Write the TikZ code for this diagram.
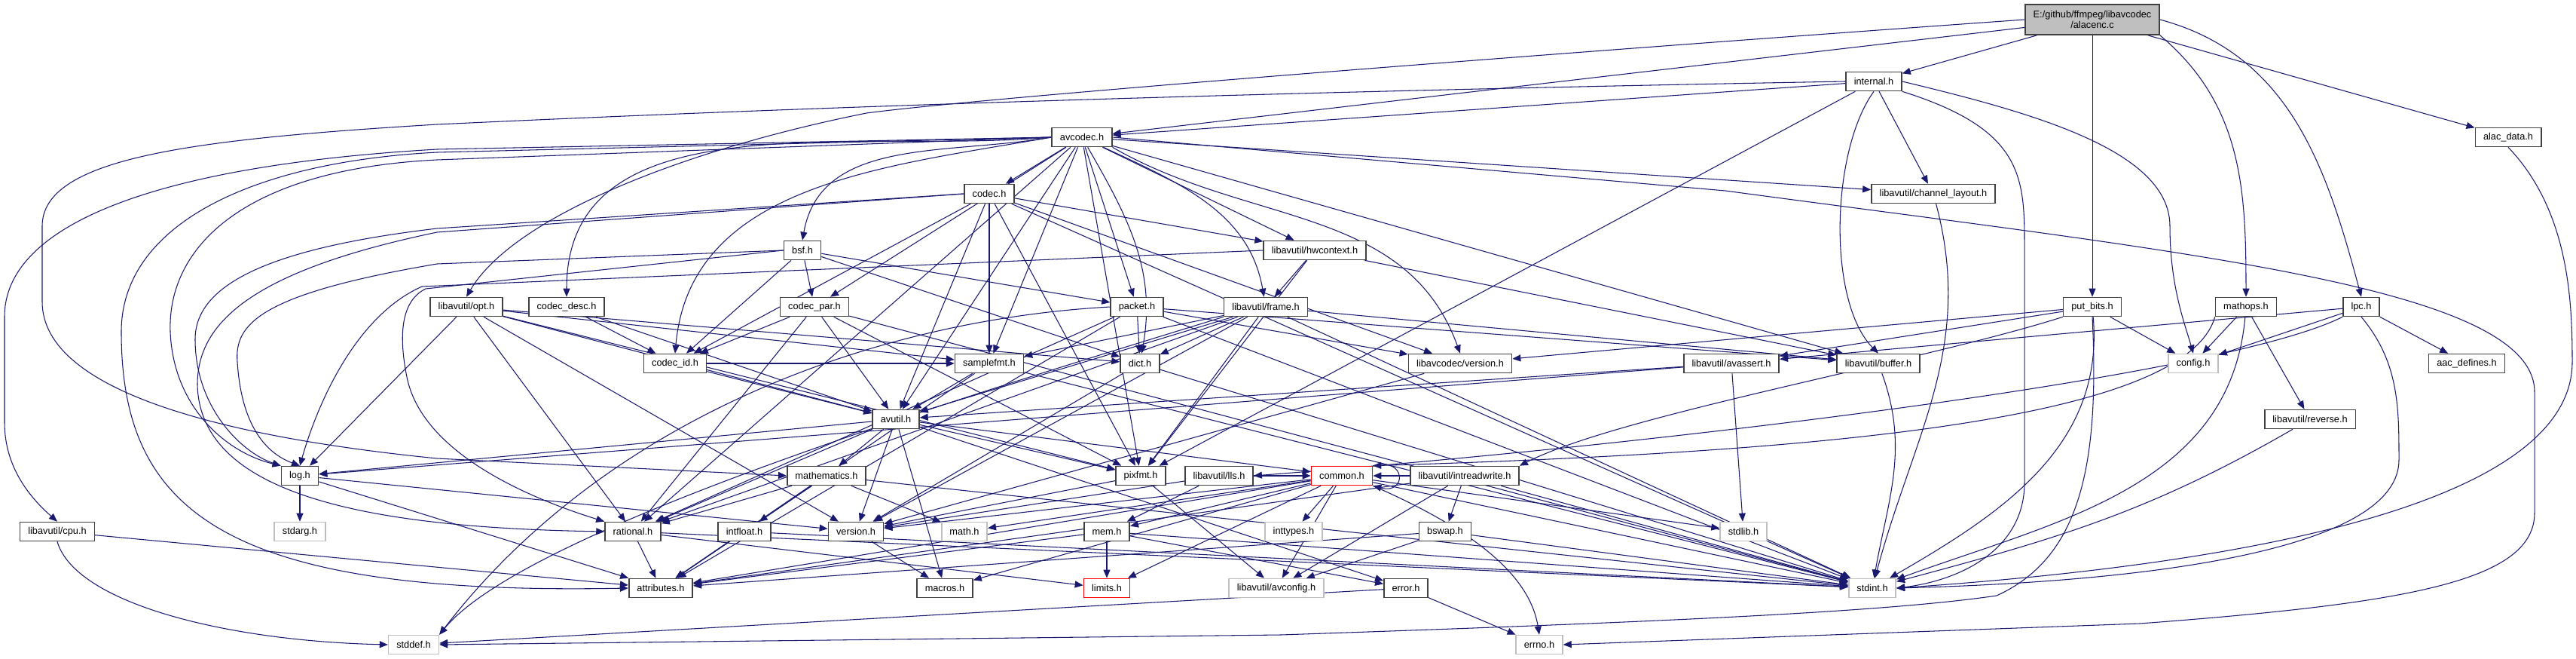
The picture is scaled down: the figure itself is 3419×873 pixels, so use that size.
\documentclass[tikz,border=0pt]{standalone}
\usepackage{fontspec}
\setsansfont{Liberation Sans}
\usetikzlibrary{arrows.meta,backgrounds}
\definecolor{edgeblue}{HTML}{191970}
\definecolor{boxgray}{HTML}{404040}
\definecolor{sysgray}{HTML}{BFBFBF}

\begin{document}
\begin{tikzpicture}[
  x=0.3mm, y=0.3mm,
  font=\sffamily\fontsize{10.9}{12.5}\selectfont,
  hdr/.style={
    draw=boxgray, line width=1.4pt, fill=white,
    minimum height=7.5mm, inner xsep=3.2mm, inner ysep=0pt,
  },
  sys/.style={hdr, draw=sysgray},
  trunc/.style={hdr, draw=red},
  root/.style={hdr, fill=sysgray, minimum height=12mm, align=center},
  inc/.style={-{Triangle[length=3.3mm,width=2.7mm]}, draw=edgeblue, line width=0.9pt},
]
\useasboundingbox (0,0) rectangle (3419,-873);

\node[root] (alacenc) at (2777,-26) {E:/github/ffmpeg/libavcodec\\/alacenc.c};
\node[hdr] (internal) at (2487,-108) {internal.h};
\node[hdr] (avcodec) at (1436,-182) {avcodec.h};
\node[hdr] (alacdata) at (3329,-182) {alac\_data.h};
\node[hdr] (codec) at (1313,-257) {codec.h};
\node[hdr] (chlayout) at (2566,-257) {libavutil/channel\_layout.h};
\node[hdr] (bsf) at (1065,-332) {bsf.h};
\node[hdr] (hwctx) at (1745,-332) {libavutil/hwcontext.h};
\node[hdr] (opt) at (619,-407) {libavutil/opt.h};
\node[hdr] (codecdesc) at (752,-407) {codec\_desc.h};
\node[hdr] (codecpar) at (1081,-407) {codec\_par.h};
\node[hdr] (packet) at (1509,-407) {packet.h};
\node[hdr] (frame) at (1680,-407) {libavutil/frame.h};
\node[hdr] (putbits) at (2777,-407) {put\_bits.h};
\node[hdr] (mathops) at (2981,-407) {mathops.h};
\node[hdr] (lpc) at (3134,-407) {lpc.h};
\node[hdr] (codecid) at (896,-482) {codec\_id.h};
\node[hdr] (samplefmt) at (1313,-482) {samplefmt.h};
\node[hdr] (dict) at (1513,-482) {dict.h};
\node[hdr] (lavcver) at (1938,-482) {libavcodec/version.h};
\node[hdr] (avassert) at (2298,-482) {libavutil/avassert.h};
\node[hdr] (buffer) at (2493,-482) {libavutil/buffer.h};
\node[sys] (config) at (2911,-482) {config.h};
\node[hdr] (aacdef) at (3274,-482) {aac\_defines.h};
\node[hdr] (avutil) at (1189,-556) {avutil.h};
\node[hdr] (reverse) at (3066,-556) {libavutil/reverse.h};
\node[hdr] (log) at (398,-631) {log.h};
\node[hdr] (mathem) at (1097,-631) {mathematics.h};
\node[hdr] (pixfmt) at (1514,-631) {pixfmt.h};
\node[hdr] (lls) at (1618,-631) {libavutil/lls.h};
\node[trunc] (common) at (1781,-631) {common.h};
\node[hdr] (intrw) at (1944,-631) {libavutil/intreadwrite.h};
\node[hdr] (cpu) at (76,-705) {libavutil/cpu.h};
\node[sys] (stdarg) at (398,-705) {stdarg.h};
\node[hdr] (rational) at (840,-705) {rational.h};
\node[hdr] (intfloat) at (988,-705) {intfloat.h};
\node[hdr] (lavuver) at (1136,-705) {version.h};
\node[sys] (math) at (1280,-705) {math.h};
\node[hdr] (mem) at (1469,-705) {mem.h};
\node[sys] (inttypes) at (1717,-705) {inttypes.h};
\node[hdr] (bswap) at (1918,-705) {bswap.h};
\node[sys] (stdlib) at (2314,-705) {stdlib.h};
\node[hdr] (attrib) at (877,-780) {attributes.h};
\node[hdr] (macros) at (1254,-780) {macros.h};
\node[trunc] (limits) at (1469,-780) {limits.h};
\node[sys] (avconfig) at (1694,-780) {libavutil/avconfig.h};
\node[hdr] (error) at (1866,-780) {error.h};
\node[sys] (stdint) at (2485,-780) {stdint.h};
\node[sys] (stddef) at (549,-855) {stddef.h};
\node[sys] (errno) at (2043,-855) {errno.h};

\begin{scope}[on background layer]
\draw[inc] (alacenc) -- (internal);
\draw[inc] (alacenc) -- (avcodec);
\draw[inc] (alacenc.west) .. controls (2000,-75) and (1300,-130) .. (1150,-150) .. controls (900,-200) and (680,-290) .. (opt.north);
\draw[inc] (alacenc) -- (putbits);
\draw[inc] (alacenc.south east) to[out=-40,in=90] (mathops.north);
\draw[inc] (alacenc.east) to[out=-15,in=105] (lpc.north);
\draw[inc] (alacenc) -- (alacdata);

\draw[inc] (internal) -- (avcodec);
\draw[inc] (internal.west) .. controls (1500,-125) and (900,-150) .. (580,-165) .. controls (250,-185) and (56,-210) .. (56,-300) -- (56,-400) .. controls (56,-520) and (300,-580) .. (580,-608) -- (mathem.west);
\draw[inc] (internal) -- (chlayout);
\draw[inc] (internal) -- (pixfmt);
\draw[inc] (internal.south) .. controls (2430,-200) and (2425,-400) .. (buffer.north);
\draw[inc] (internal.south east) .. controls (2680,-170) and (2687,-230) .. (2687,-320) -- (2687,-640) .. controls (2687,-730) and (2600,-770) .. (stdint.east);
\draw[inc] (internal.east) .. controls (2700,-150) and (2880,-200) .. (2880,-300) .. controls (2880,-380) and (2900,-430) .. (config.north);

\draw[inc] (avcodec.east) -- (2290,-253) .. controls (2900,-335) and (3364,-380) .. (3364,-520) -- (3364,-680) .. controls (3364,-770) and (3200,-800) .. (2840,-827) -- (errno.east);
\draw[inc] (avcodec) -- (samplefmt);
\draw[inc] (avcodec.west) -- (580,-202) .. controls (330,-215) and (161,-300) .. (161,-440) .. controls (161,-680) and (300,-790) .. (attrib.west);
\draw[inc] (avcodec) -- (avutil);
\draw[inc] (avcodec) -- (buffer);
\draw[inc] (avcodec.west) -- (580,-198) .. controls (200,-220) and (6,-300) .. (6,-420) -- (6,-560) .. controls (6,-620) and (40,-660) .. (cpu.north);
\draw[inc] (avcodec) -- (chlayout);
\draw[inc] (avcodec) to[out=-60,in=80] (dict);
\draw[inc] (avcodec) to[out=-25,in=100] (frame);
\draw[inc] (avcodec) -- (hwctx);
\draw[inc] (avcodec.west) -- (580,-212) .. controls (320,-225) and (222,-330) .. (226,-440) .. controls (230,-540) and (300,-600) .. (log.north west);
\draw[inc] (avcodec) -- (pixfmt);
\draw[inc] (avcodec) -- (rational);
\draw[inc] (avcodec.west) to[out=190,in=80] (bsf.north);
\draw[inc] (avcodec) -- (codec);
\draw[inc] (avcodec.west) to[out=185,in=90] (codecdesc.north);
\draw[inc] (avcodec) -- (codecpar);
\draw[inc] (avcodec.west) to[out=190,in=85] (codecid.north);
\draw[inc] (avcodec) -- (packet);
\draw[inc] (avcodec.south east) to[out=-30,in=110] (lavcver.north);

\draw[inc] (codec) -- (avutil);
\draw[inc] (codec) -- (hwctx);
\draw[inc] (codec.west) -- (580,-303) .. controls (350,-330) and (259,-380) .. (259,-450) .. controls (259,-540) and (320,-600) .. (log.north west);
\draw[inc] (codec) -- (pixfmt);
\draw[inc] (codec.west) -- (580,-308) .. controls (330,-360) and (262,-430) .. (262,-510) .. controls (265,-660) and (500,-700) .. (rational.west);
\draw[inc] (codec) -- (samplefmt);
\draw[inc] (codec) -- (codecid);
\draw[inc] (codec) -- (lavcver);
\draw[inc] (codec) -- (stdint);

\draw[inc] (chlayout) to[out=-75,in=75] (stdint);
\draw[inc] (alacdata.south) .. controls (3410,-280) and (3414,-400) .. (3414,-480) .. controls (3414,-640) and (3100,-740) .. (stdint.east);

\draw[inc] (bsf) -- (dict);
\draw[inc] (bsf.west) -- (580,-350) .. controls (344,-390) and (311,-430) .. (315,-480) .. controls (320,-560) and (350,-600) .. (log.north);
\draw[inc] (bsf.west) -- (565,-383) .. controls (530,-400) and (530,-450) .. (540,-500) .. controls (560,-600) and (700,-660) .. (rational.north west);
\draw[inc] (bsf) -- (codecid);
\draw[inc] (bsf) -- (codecpar);
\draw[inc] (bsf) -- (packet);

\draw[inc] (hwctx) -- (buffer);
\draw[inc] (hwctx) -- (frame);
\draw[inc] (hwctx.west) -- (560,-380) .. controls (470,-420) and (420,-540) .. (log.north);
\draw[inc] (hwctx) -- (pixfmt);

\draw[inc] (opt) -- (rational);
\draw[inc] (opt) -- (avutil);
\draw[inc] (opt) -- (dict);
\draw[inc] (opt) -- (log);
\draw[inc] (opt) -- (pixfmt);
\draw[inc] (opt) -- (samplefmt);
\draw[inc] (opt) -- (lavuver);

\draw[inc] (codecdesc) -- (avutil);
\draw[inc] (codecdesc) -- (codecid);
\draw[inc] (codecpar) -- (stdint);
\draw[inc] (codecpar) -- (avutil);
\draw[inc] (codecpar) -- (rational);
\draw[inc] (codecpar) -- (pixfmt);
\draw[inc] (codecpar) -- (codecid);

\draw[inc] (packet.west) .. controls (1150,-425) and (800,-560) .. (stddef.north east);
\draw[inc] (packet) -- (stdint);
\draw[inc] (packet) -- (attrib);
\draw[inc] (packet) -- (buffer);
\draw[inc] (packet) -- (dict);
\draw[inc] (packet) -- (rational);
\draw[inc] (packet) -- (lavcver);

\draw[inc] (frame.south west) .. controls (1300,-520) and (700,-700) .. (stddef.north east);
\draw[inc] (frame) -- (stdint);
\draw[inc] (frame) -- (avutil);
\draw[inc] (frame) -- (buffer);
\draw[inc] (frame) -- (dict);
\draw[inc] (frame) -- (rational);
\draw[inc] (frame) -- (samplefmt);
\draw[inc] (frame) -- (pixfmt);
\draw[inc] (frame) -- (lavuver);

\draw[inc] (putbits.south) .. controls (2787,-620) and (2760,-740) .. (2650,-790) .. controls (2500,-812) and (2200,-825) .. (1700,-842) -- (stddef.east);
\draw[inc] (putbits) to[out=-85,in=30] (stdint);
\draw[inc] (putbits) -- (config);
\draw[inc] (putbits.south west) .. controls (2550,-480) and (2150,-550) .. (intrw.north east);
\draw[inc] (putbits) -- (avassert);
\draw[inc] (putbits) -- (lavcver);

\draw[inc] (mathops) to[out=-95,in=20] (stdint);
\draw[inc] (mathops) -- (config);
\draw[inc] (mathops.south west) .. controls (2900,-560) and (2400,-600) .. (common.north east);
\draw[inc] (mathops) -- (reverse);

\draw[inc] (lpc.south) .. controls (3184,-480) and (3184,-540) .. (3184,-610) .. controls (3184,-720) and (2900,-770) .. (stdint.east);
\draw[inc] (lpc) -- (config);
\draw[inc] (lpc) -- (avassert);
\draw[inc] (lpc.south west) .. controls (2950,-500) and (2200,-590) .. (lls.east);
\draw[inc] (lpc) -- (aacdef);

\draw[inc] (codecid) -- (avutil);
\draw[inc] (codecid) -- (samplefmt);
\draw[inc] (samplefmt) -- (stdint);
\draw[inc] (samplefmt) -- (avutil);
\draw[inc] (samplefmt) -- (attrib);
\draw[inc] (dict) -- (stdint);
\draw[inc] (dict) -- (lavuver);
\draw[inc] (lavcver) -- (lavuver);
\draw[inc] (avassert) -- (stdlib);
\draw[inc] (avassert) -- (avutil);
\draw[inc] (avassert) -- (log);
\draw[inc] (buffer) to[out=-70,in=80] (stdint);

\draw[inc] (avutil) -- (common);
\draw[inc] (avutil) -- (error);
\draw[inc] (avutil) -- (rational);
\draw[inc] (avutil) -- (lavuver);
\draw[inc] (avutil) -- (macros);
\draw[inc] (avutil) -- (mathem);
\draw[inc] (avutil) -- (log);
\draw[inc] (avutil) -- (pixfmt);
\draw[inc] (reverse) to[out=-150,in=15] (stdint);

\draw[inc] (log) -- (stdarg);
\draw[inc] (log) -- (attrib);
\draw[inc] (log) -- (lavuver);
\draw[inc] (mathem) -- (stdint);
\draw[inc] (mathem) -- (math);
\draw[inc] (mathem) -- (attrib);
\draw[inc] (mathem) -- (rational);
\draw[inc] (mathem) -- (intfloat);
\draw[inc] (pixfmt) -- (avconfig);
\draw[inc] (pixfmt) -- (lavuver);
\draw[inc] (lls) -- (common);
\draw[inc] (lls) -- (mem);
\draw[inc] (lls) -- (lavuver);

\draw[inc] (common.south east) .. controls (1950,-700) and (2030,-760) .. (errno.north);
\draw[inc] (common) -- (inttypes);
\draw[inc] (common) -- (limits);
\draw[inc] (common) -- (math);
\draw[inc] (common) -- (stdint);
\draw[inc] (common) -- (stdlib);
\draw[inc] (common) -- (attrib);
\draw[inc] (common) -- (macros);
\draw[inc] (common) -- (lavuver);
\draw[inc] (common) -- (avconfig);
\draw[inc] (common) -- (mem);
\draw[inc] (common.north east) .. controls +(45,12) and +(45,-12) .. (common.south east);

\draw[inc] (intrw) -- (stdint);
\draw[inc] (intrw) -- (avconfig);
\draw[inc] (intrw) -- (attrib);
\draw[inc] (intrw) -- (bswap);
\draw[inc] (intrw) -- (common);

\draw[inc] (cpu.south) .. controls (100,-800) and (300,-850) .. (stddef.west);
\draw[inc] (cpu) -- (attrib);
\draw[inc] (rational) -- (stdint);
\draw[inc] (rational) -- (limits);
\draw[inc] (rational) -- (attrib);
\draw[inc] (intfloat) -- (stdint);
\draw[inc] (intfloat) -- (attrib);
\draw[inc] (lavuver) -- (macros);
\draw[inc] (mem) -- (limits);
\draw[inc] (mem) -- (stdint);
\draw[inc] (mem) -- (attrib);
\draw[inc] (mem) -- (error);
\draw[inc] (bswap) -- (stdint);
\draw[inc] (bswap) -- (avconfig);
\draw[inc] (bswap) -- (attrib);
\draw[inc] (error) -- (errno);
\draw[inc] (error) -- (stddef);
\end{scope}

\end{tikzpicture}
\end{document}
